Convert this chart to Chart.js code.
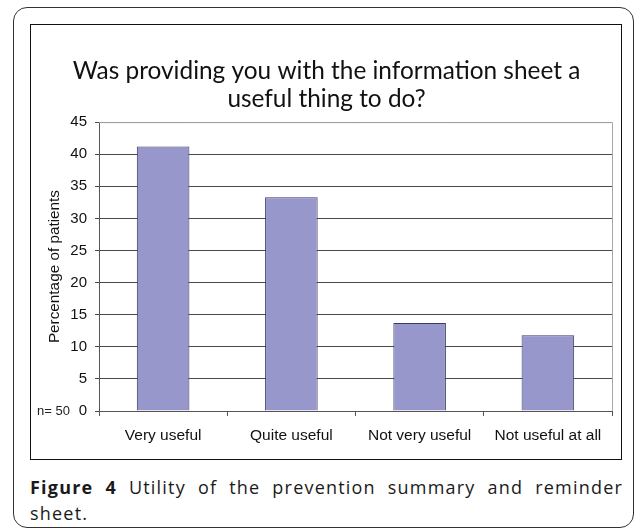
<!DOCTYPE html>
<html lang="en">
<head>
  <meta charset="UTF-8" />
  <title>Figure 4</title>
  <script src="https://cdn.jsdelivr.net/npm/chart.js"></script>
  <style>
    body {
      margin: 0;
      background: #ffffff;
      width: 635px;
      height: 531px;
      position: relative;
      overflow: hidden;
    }

    .frame {
      position: absolute;
      left: 13px;
      top: 7px;
      width: 619px;
      height: 519px;
      border: 1.5px solid #333;
      border-radius: 14px;
    }

    .chart-box {
      position: absolute;
      left: 30px;
      top: 24px;
      width: 590px;
      height: 434px;
      border: 1.5px solid #111;
    }

    .caption {
      position: absolute;
      left: 30px;
      top: 474px;
      width: 593px;
      font-family: 'Open Sans', sans-serif;
      font-size: 18px;
      line-height: 26px;
      letter-spacing: 1.2px;
      color: #1a1a1a;
    }

    .caption .line1 {
      text-align: justify;
      text-align-last: justify;
    }

    .caption b {
      font-weight: bold;
    }
  </style>
</head>
<body>

  <div class="frame"></div>
  <div class="chart-box">
    <canvas id="usefulChart" width="590" height="434"></canvas>
  </div>
  <div class="caption">
    <div class="line1"><b>Figure 4</b> Utility of the prevention summary and reminder</div>
    <div>sheet.</div>
  </div>

  <script>
    const categories = ['Very useful', 'Quite useful', 'Not very useful', 'Not useful at all'];
    const percentages = [41.2, 33.3, 13.7, 11.8];
    const titleLines = ['Was providing you with the information sheet a', 'useful thing to do?'];
    const sampleLabel = 'n= 50';

    const axisFamily = "'Liberation Sans', Arial, sans-serif";

    // plot area border (light grey top/right edges) and the n= label
    const extras = {
      id: 'extras',
      afterDraw(chart) {
        const { ctx, chartArea } = chart;
        const y0 = chart.scales.y.getPixelForValue(0);
        ctx.save();
        ctx.strokeStyle = '#a8a8a8';
        ctx.lineWidth = 1;
        ctx.beginPath();
        ctx.moveTo(chartArea.left, chartArea.top + 0.5);
        ctx.lineTo(chartArea.right + 0.5, chartArea.top + 0.5);
        ctx.lineTo(chartArea.right + 0.5, chartArea.bottom);
        ctx.stroke();

        ctx.fillStyle = '#222';
        ctx.font = '13px ' + axisFamily;
        ctx.textAlign = 'right';
        ctx.textBaseline = 'middle';
        ctx.fillText(sampleLabel, chartArea.left - 29, y0);
        ctx.restore();
      }
    };

    const ctx = document.getElementById('usefulChart').getContext('2d');

    new Chart(ctx, {
      type: 'bar',
      data: {
        labels: categories,
        datasets: [{
          label: 'Percentage of patients',
          data: percentages,
          backgroundColor: '#9797cb',
          borderColor: '#3a3a6a',
          borderWidth: 1,
          categoryPercentage: 1.0,
          barPercentage: 0.41
        }]
      },
      options: {
        responsive: false,
        animation: false,
        layout: {
          padding: { left: 10, right: 9, top: 32, bottom: 0 }
        },
        plugins: {
          legend: { display: false },
          tooltip: { enabled: false },
          title: {
            display: true,
            text: titleLines,
            color: '#111',
            font: { family: 'Lato, sans-serif', size: 24.4, weight: 'normal', lineHeight: 1.15 },
            padding: { top: 0, bottom: 9 }
          }
        },
        scales: {
          x: {
            grid: {
              drawOnChartArea: false,
              drawTicks: true,
              tickLength: 5,
              color: '#555'
            },
            border: { display: true, color: '#555', width: 1 },
            ticks: {
              color: '#111',
              font: { family: axisFamily, size: 15.5 },
              padding: 10,
              maxRotation: 0
            },
            afterFit: scale => { scale.height = 48; }
          },
          y: {
            min: 0,
            max: 45,
            ticks: {
              stepSize: 5,
              color: '#111',
              font: { family: axisFamily, size: 15 },
              padding: 8
            },
            grid: {
              color: '#4a4a4a',
              tickLength: 4,
              drawTicks: true
            },
            border: { display: true, color: '#555', width: 1 },
            title: {
              display: true,
              text: 'Percentage of patients',
              color: '#111',
              font: { family: axisFamily, size: 15.3 },
              padding: { top: 5, bottom: 0 }
            },
            afterFit: scale => { scale.width = 58; }
          }
        }
      },
      plugins: [extras]
    });
  </script>

</body>
</html>
